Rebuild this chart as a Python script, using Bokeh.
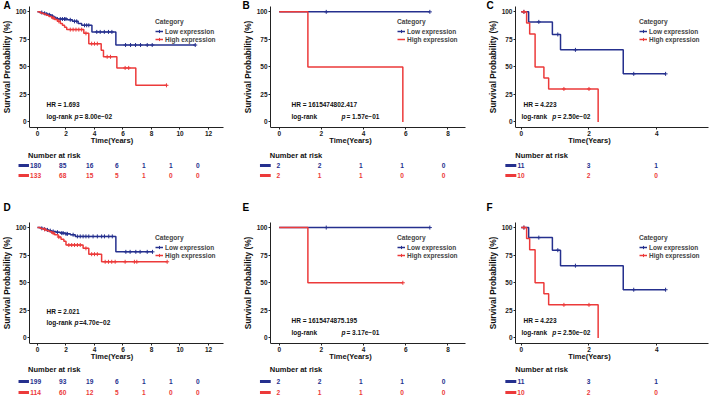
import numpy as np
from bokeh.plotting import figure
from bokeh.layouts import row, column
from bokeh.models import Range1d, Label, Legend, LegendItem, FixedTicker, ColumnDataSource
from bokeh.embed import file_html
from bokeh.resources import INLINE
from bokeh.core.properties import value

# ---------------- data ----------------
# Panel A
a_low_t = [0, 0.15, 0.35, 0.55, 0.75, 0.95, 1.15, 1.3, 2.1, 2.45, 2.85, 3.1, 3.82, 5.5, 11.07]
a_low_s = [100, 99.4, 98.7, 98.0, 97.3, 96.0, 95.0, 93.5, 92.8, 91.4, 89.5, 87.8, 81.8, 69.9, 69.9]
a_low_cens = [0.3, 0.5, 0.65, 0.85, 1.05, 1.4, 1.6, 1.75, 1.9, 2.0, 2.3, 2.6, 2.75, 3.3, 3.45, 3.6,
              4.16, 4.4, 4.69, 4.98, 5.22, 6.18, 6.53, 6.88, 7.23, 7.7, 8.05, 11.07]
a_high_t = [0, 0.2, 0.4, 0.6, 0.8, 1.0, 1.2, 1.4, 1.6, 1.75, 1.9, 2.05, 3.25, 3.6, 4.47, 4.63, 5.57, 6.9, 9.1]
a_high_s = [100, 99, 98, 97, 95.8, 94.5, 93, 91.4, 89.5, 87.8, 86, 83.9, 80.5, 71.1, 65.2, 59.2, 49.1, 33.3, 33.3]
a_high_cens = [1.1, 1.5, 2.3, 2.5, 2.7, 2.9, 3.1, 3.4, 3.8, 4.0, 4.2, 4.89, 5.12, 6.15, 6.4, 9.05]
a_low_risk = [180, 85, 16, 6, 1, 1, 0]
a_high_risk = [133, 68, 15, 5, 1, 0, 0]
a_hr = "1.693"
a_p = "= 8.00e\u221202"

# Panel B
b_low_t = [0, 7.14]
b_low_s = [100, 100]
b_low_cens = [2.23, 7.14]
b_high_t = [0, 1.36, 5.86]
b_high_s = [100, 50, 0]
b_high_cens = []
b_low_risk = [2, 2, 1, 1, 0]
b_high_risk = [2, 1, 1, 0, 0]
b_hr = "1615474802.417"
b_p = "= 1.57e\u221201"

# Panel C
c_low_t = [0, 0.22, 0.92, 1.16, 3.01, 4.26]
c_low_s = [100, 90.9, 79.5, 65.5, 43.7, 43.7]
c_low_cens = [0.08, 0.52, 1.08, 1.6, 3.32, 4.26]
c_high_t = [0, 0.16, 0.25, 0.41, 0.67, 0.81, 2.27]
c_high_s = [100, 90, 80, 50, 40, 30, 0]
c_high_cens = [0.08, 1.26, 2.0]
c_low_risk = [11, 3, 1]
c_high_risk = [10, 2, 0]
c_hr = "4.223"
c_p = "= 2.50e\u221202"

# Panel D
d_low_t = [0, 0.2, 0.4, 0.6, 0.8, 1.0, 1.3, 1.6, 1.95, 2.3, 2.65, 5.5, 8.07]
d_low_s = [100, 99.3, 98.6, 97.9, 97.2, 96.5, 95.8, 95.0, 94.3, 93.5, 92.0, 78.0, 78.0]
d_low_cens = [0.3, 0.5, 0.7, 0.9, 1.1, 1.4, 1.7, 1.8, 2.0, 2.1, 2.5, 2.8, 3.0, 3.2, 3.4, 3.6, 3.9,
              4.2, 4.5, 4.7, 5.0, 5.25, 6.2, 6.5, 6.9, 7.2, 7.7, 8.07]
d_high_t = [0, 0.2, 0.4, 0.6, 0.8, 1.0, 1.2, 1.45, 1.65, 1.85, 2.0, 3.2, 3.6, 4.5, 9.1]
d_high_s = [100, 99.2, 98.4, 97.4, 96.4, 95.0, 93.5, 91.4, 89.5, 87.5, 84.2, 81.2, 75.9, 69.0, 69.0]
d_high_cens = [0.5, 1.1, 1.5, 2.2, 2.4, 2.6, 2.8, 3.0, 3.4, 3.8, 4.0, 4.2,
               4.75, 4.98, 5.21, 5.45, 6.15, 6.8, 6.97, 9.1]
d_low_risk = [199, 93, 19, 6, 1, 1, 0]
d_high_risk = [114, 60, 12, 5, 1, 0, 0]
d_hr = "2.021"
d_p = "=4.70e\u221202"

# Panel E
e_low_t = [0, 7.14]
e_low_s = [100, 100]
e_low_cens = [2.23, 7.14]
e_high_t = [0, 1.36, 5.86]
e_high_s = [100, 50, 50]
e_high_cens = [5.86]
e_low_risk = [2, 2, 1, 1, 0]
e_high_risk = [2, 1, 1, 0, 0]
e_hr = "1615474875.195"
e_p = "= 3.17e\u221201"

# Panel F
f_low_t = [0, 0.22, 0.92, 1.16, 3.01, 4.26]
f_low_s = [100, 90.9, 79.5, 65.5, 43.7, 43.7]
f_low_cens = [0.08, 0.52, 1.08, 1.6, 3.32, 4.26]
f_high_t = [0, 0.16, 0.25, 0.41, 0.67, 0.81, 2.27]
f_high_s = [100, 90, 80, 50, 40, 30, 0]
f_high_cens = [0.08, 1.26, 2.0]
f_low_risk = [11, 3, 1]
f_high_risk = [10, 2, 0]
f_hr = "4.223"
f_p = "= 2.50e\u221202"

ticks_12 = [0, 2, 4, 6, 8, 10, 12]
ticks_8 = [0, 2, 4, 6, 8]
ticks_4 = [0, 2, 4]
y_ticks = [0, 25, 50, 75, 100]
group_labels = ["Low expression", "High expression"]

# ---------------- style / layout ----------------
BLUE = "#25308E"
RED = "#EC3A3A"
FONT = "Liberation Sans"
YPX = 124 / 110.0   # pixels per survival percent

geo_left = dict(w=235, bl=29, br=12, x0=-0.561, scale=14.25, ticks=ticks_12, lx=126)
geo_mid = dict(w=235, bl=35, br=5, x0=-0.412, scale=21.1, ticks=ticks_8, lx=127)
geo_right = dict(w=239, bl=45, br=1, x0=-0.168, scale=33.9, ticks=ticks_4, lx=124)

ann_left = dict(hr_x=17, lr_x=17, p_x=45, pv_x=49.7)
ann_mid = dict(hr_x=21, lr_x=21, p_x=71, pv_x=76)
ann_right = dict(hr_x=8, lr_x=6, p_x=36.7, pv_x=42)


def surv_at(ts, ss, ct):
    if len(ct) == 0:
        return []
    idx = np.searchsorted(np.asarray(ts), np.asarray(ct), side="right") - 1
    return list(np.asarray(ss)[idx])


def make_km(letter, low, high, hr, pv, g, ann, top_pad, letter_top, hr_y, lr_y, letter_dx):
    sc = g["scale"]
    bl = g["bl"]
    x1 = g["x0"] + (g["w"] - bl - g["br"]) / sc
    xs = g["x0"] - bl / sc
    fh = top_pad + 124
    ytop = -5 + fh / YPX
    height = fh + 17
    p = figure(width=g["w"], height=height, x_range=Range1d(xs, x1), y_range=Range1d(-5, ytop),
               output_backend="svg", toolbar_location=None,
               min_border_left=0, min_border_right=g["br"],
               min_border_top=0, min_border_bottom=17,
               outline_line_color=None, background_fill_color="white", border_fill_color="white")
    p.xgrid.visible = False
    p.ygrid.visible = False
    p.xaxis.ticker = FixedTicker(ticks=g["ticks"])
    p.yaxis.ticker = FixedTicker(ticks=y_ticks)
    p.xaxis.axis_label = "Time(Years)"
    p.yaxis.axis_label = "Survival Probability (%)"
    p.yaxis[0].fixed_location = g["x0"]
    p.yaxis[0].bounds = (-5, 105)
    p.xaxis[0].bounds = (g["x0"], x1)
    for ax in (p.xaxis[0], p.yaxis[0]):
        ax.axis_label_text_font = FONT
        ax.axis_label_text_font_style = "bold"
        ax.major_label_text_font = FONT
        ax.major_label_text_font_style = "bold"
        ax.major_label_text_font_size = "6.5px"
        ax.major_label_text_color = "#1a1a1a"
        ax.major_tick_out = 2
        ax.major_tick_in = 0
        ax.minor_tick_out = 0
        ax.minor_tick_in = 0
        ax.major_label_standoff = 1
        ax.axis_line_color = "#222222"
        ax.major_tick_line_color = "#222222"
        ax.axis_label_text_color = "#111111"
    p.xaxis[0].axis_label_text_font_size = "7.5px"
    p.xaxis[0].axis_label_standoff = -3
    p.yaxis[0].axis_label_text_font_size = "8.3px"
    p.yaxis[0].axis_label_standoff = 1

    rends = []
    for (t, s, cens), col in ((low, BLUE), (high, RED)):
        r = p.step(t, s, mode="after", line_color=col, line_width=1.5)
        c = p.scatter(cens, surv_at(t, s, cens), marker="cross", size=4, line_color=col, line_width=1)
        rends.append([r, c])

    leg = Legend(items=[LegendItem(label=group_labels[0], renderers=rends[0]),
                        LegendItem(label=group_labels[1], renderers=rends[1])],
                 title="Category", location=(bl + g["lx"], 84),
                 title_text_font=FONT, title_text_font_style="bold", title_text_font_size="6.6px",
                 title_standoff=2, label_text_font=FONT, label_text_font_style="bold",
                 label_text_font_size="6.5px", label_height=8, glyph_height=8, glyph_width=8,
                 label_standoff=2, spacing=0, padding=0, margin=0, border_line_color=None,
                 background_fill_alpha=0)
    p.add_layout(leg)

    common = dict(x_units="screen", y_units="screen", text_font=FONT, text_font_style="bold",
                  text_font_size="6.5px", text_baseline="middle", text_align="left", text_color="#111111")
    p.add_layout(Label(x=bl + ann["hr_x"], y=hr_y, text="HR = " + hr, **common))
    p.add_layout(Label(x=bl + ann["lr_x"], y=lr_y, text="log-rank", **common))
    pc = dict(common)
    pc["text_font_style"] = "bold italic"
    p.add_layout(Label(x=bl + ann["p_x"], y=lr_y, text="p", **pc))
    p.add_layout(Label(x=bl + ann["pv_x"], y=lr_y, text=pv, **common))
    p.add_layout(Label(x=bl + letter_dx, y=fh - letter_top, text=letter, x_units="screen", y_units="screen",
                       text_font=FONT, text_font_style="bold", text_font_size="10px",
                       text_baseline="middle", text_align="left", text_color="black"))
    return p


def make_risk(low_risk, high_risk, g, height, ys):
    sc = g["scale"]
    x1 = g["x0"] + (g["w"] - g["bl"] - g["br"]) / sc
    r = figure(width=g["w"], height=height,
               x_range=Range1d(g["x0"] - g["bl"] / sc, x1 + g["br"] / sc),
               y_range=Range1d(height, 0), x_axis_type=None, y_axis_type=None,
               output_backend="svg", toolbar_location=None, min_border=0,
               outline_line_color=None, background_fill_color="white", border_fill_color="white")
    r.grid.visible = False
    r.text(x=[g["x0"]], y=[ys[0]], text=["Number at risk"], text_font=value(FONT),
           text_font_style="bold", text_font_size="7.5px", text_baseline="middle",
           text_align="left", text_color="#111111")
    r.segment(x0=[g["x0"] - 10 / sc] * 2, y0=[ys[1], ys[2]], x1=[g["x0"] + 1 / sc] * 2, y1=[ys[1], ys[2]],
              line_color=[BLUE, RED], line_width=3)
    n = len(low_risk)
    times = g["ticks"][:n]
    src = ColumnDataSource(dict(x=times + times, y=[ys[1]] * n + [ys[2]] * n,
                                t=[str(v) for v in low_risk + high_risk],
                                c=[BLUE] * n + [RED] * n))
    r.text(x="x", y="y", text="t", text_color="c", text_font=value(FONT), text_font_style="bold",
           text_font_size="6.6px", text_align="center", text_baseline="middle", source=src)
    return r


panels_top = [
    ("A", (a_low_t, a_low_s, a_low_cens), (a_high_t, a_high_s, a_high_cens), a_hr, a_p, a_low_risk, a_high_risk, geo_left, ann_left, -26),
    ("B", (b_low_t, b_low_s, b_low_cens), (b_high_t, b_high_s, b_high_cens), b_hr, b_p, b_low_risk, b_high_risk, geo_mid, ann_mid, -28),
    ("C", (c_low_t, c_low_s, c_low_cens), (c_high_t, c_high_s, c_high_cens), c_hr, c_p, c_low_risk, c_high_risk, geo_right, ann_right, -29),
]
panels_bot = [
    ("D", (d_low_t, d_low_s, d_low_cens), (d_high_t, d_high_s, d_high_cens), d_hr, d_p, d_low_risk, d_high_risk, geo_left, ann_left, -26),
    ("E", (e_low_t, e_low_s, e_low_cens), (e_high_t, e_high_s, e_high_cens), e_hr, e_p, e_low_risk, e_high_risk, geo_mid, ann_mid, -28),
    ("F", (f_low_t, f_low_s, f_low_cens), (f_high_t, f_high_s, f_high_cens), f_hr, f_p, f_low_risk, f_high_risk, geo_right, ann_right, -29),
]

top_cols = []
for (L, lo, hi, hr, pv, lr, hrk, g, ann, ldx) in panels_top:
    km = make_km(L, lo, hi, hr, pv, g, ann, top_pad=6, letter_top=8, hr_y=23.2, lr_y=11.5, letter_dx=ldx)
    rk = make_risk(lr, hrk, g, 53, [8, 18, 28])
    top_cols.append(column(km, rk, spacing=0))

bot_cols = []
for (L, lo, hi, hr, pv, lr, hrk, g, ann, ldx) in panels_bot:
    hy, ly = (31.8, 20.8) if L == "D" else (23.2, 11.5)
    km = make_km(L, lo, hi, hr, pv, g, ann, top_pad=22, letter_top=10, hr_y=hy, lr_y=ly, letter_dx=ldx)
    rk = make_risk(lr, hrk, g, 33, [6, 18, 29])
    bot_cols.append(column(km, rk, spacing=0))

layout = column(row(*top_cols, spacing=0), row(*bot_cols, spacing=0), spacing=0)

with open("out.html", "w") as f:
    f.write(file_html(layout, INLINE))
